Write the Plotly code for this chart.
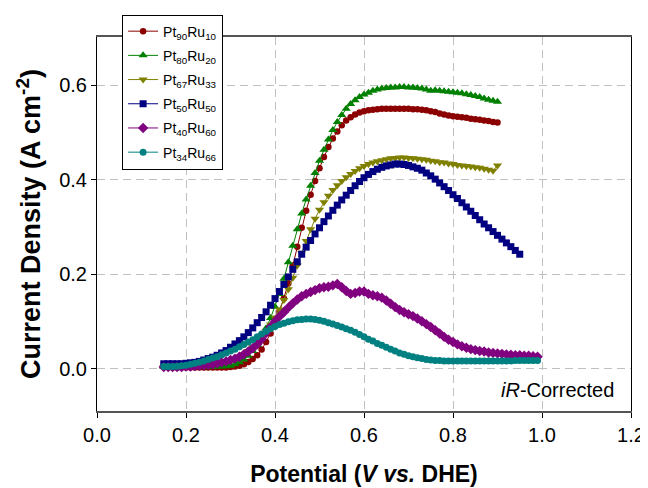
import plotly.graph_objects as go

potential = [0.15, 0.16, 0.17, 0.18, 0.19, 0.20, 0.21, 0.22, 0.23, 0.24,
             0.25, 0.26, 0.27, 0.28, 0.29, 0.30, 0.31, 0.32, 0.33, 0.34,
             0.35, 0.36, 0.37, 0.38, 0.39, 0.40, 0.41, 0.42, 0.43, 0.44,
             0.45, 0.46, 0.47, 0.48, 0.49, 0.50, 0.51, 0.52, 0.53, 0.54,
             0.55, 0.56, 0.57, 0.58, 0.59, 0.60, 0.61, 0.62, 0.63, 0.64,
             0.65, 0.66, 0.67, 0.68, 0.69, 0.70, 0.71, 0.72, 0.73, 0.74,
             0.75, 0.76, 0.77, 0.78, 0.79, 0.80, 0.81, 0.82, 0.83, 0.84,
             0.85, 0.86, 0.87, 0.88, 0.89, 0.90, 0.91, 0.92, 0.93, 0.94,
             0.95, 0.96, 0.97, 0.98, 0.99]

pt90ru10 = [0.003, 0.003, 0.002, 0.002, 0.002, 0.002, 0.002, 0.002, 0.002, 0.002,
            0.002, 0.002, 0.002, 0.002, 0.002, 0.003, 0.004, 0.006, 0.009, 0.014,
            0.020, 0.028, 0.040, 0.056, 0.074, 0.095, 0.120, 0.148, 0.180, 0.218,
            0.258, 0.298, 0.334, 0.368, 0.397, 0.424, 0.448, 0.469, 0.487, 0.502,
            0.515, 0.525, 0.532, 0.538, 0.542, 0.545, 0.547, 0.548, 0.549, 0.550,
            0.550, 0.550, 0.550, 0.550, 0.550, 0.550, 0.549, 0.549, 0.548, 0.547,
            0.545, 0.543, 0.540, 0.538, 0.536, 0.534, 0.533, 0.532, 0.531, 0.529,
            0.528, 0.527, 0.525, 0.524, 0.522, 0.521]

pt80ru20 = [0.003, 0.003, 0.003, 0.003, 0.003, 0.003, 0.003, 0.003, 0.003, 0.003,
            0.003, 0.003, 0.004, 0.004, 0.005, 0.006, 0.009, 0.013, 0.019, 0.027,
            0.037, 0.050, 0.066, 0.085, 0.107, 0.131, 0.158, 0.190, 0.225, 0.260,
            0.295, 0.328, 0.358, 0.387, 0.414, 0.440, 0.463, 0.485, 0.505, 0.522,
            0.537, 0.550, 0.560, 0.568, 0.575, 0.580, 0.584, 0.588, 0.591, 0.593,
            0.594, 0.595, 0.595, 0.596, 0.596, 0.595, 0.595, 0.594, 0.593, 0.591,
            0.588, 0.589, 0.588, 0.587, 0.586, 0.585, 0.584, 0.583, 0.581, 0.579,
            0.577, 0.575, 0.572, 0.569, 0.567, 0.565]

pt67ru33 = [0.003, 0.003, 0.003, 0.003, 0.004, 0.004, 0.005, 0.005, 0.006, 0.007,
            0.008, 0.009, 0.010, 0.012, 0.014, 0.017, 0.020, 0.025, 0.030, 0.037,
            0.045, 0.055, 0.066, 0.079, 0.093, 0.108, 0.125, 0.145, 0.168, 0.192,
            0.218, 0.245, 0.270, 0.295, 0.317, 0.336, 0.352, 0.366, 0.378, 0.388,
            0.397, 0.405, 0.412, 0.418, 0.424, 0.429, 0.433, 0.436, 0.439, 0.441,
            0.443, 0.445, 0.446, 0.447, 0.447, 0.446, 0.445, 0.444, 0.443, 0.442,
            0.440, 0.439, 0.437, 0.436, 0.434, 0.433, 0.431, 0.430, 0.429, 0.428,
            0.426, 0.425, 0.423, 0.421, 0.419, 0.430]

pt50ru50 = [0.010, 0.010, 0.010, 0.010, 0.010, 0.011, 0.012, 0.013, 0.015, 0.018,
            0.021, 0.024, 0.028, 0.033, 0.038, 0.045, 0.052, 0.059, 0.067, 0.076,
            0.086, 0.097, 0.108, 0.120, 0.134, 0.148, 0.163, 0.178, 0.194, 0.210,
            0.226, 0.242, 0.257, 0.271, 0.285, 0.298, 0.311, 0.323, 0.335, 0.346,
            0.357, 0.367, 0.377, 0.387, 0.396, 0.404, 0.411, 0.417, 0.422, 0.426,
            0.429, 0.431, 0.433, 0.433, 0.432, 0.430, 0.427, 0.424, 0.420, 0.414,
            0.408, 0.401, 0.393, 0.385, 0.377, 0.368, 0.360, 0.351, 0.342, 0.333,
            0.324, 0.315, 0.306, 0.298, 0.290, 0.282, 0.274, 0.266, 0.258, 0.250,
            0.242]

pt40ru60 = [0.003, 0.003, 0.003, 0.003, 0.003, 0.004, 0.004, 0.005, 0.006, 0.007,
            0.008, 0.009, 0.011, 0.013, 0.015, 0.018, 0.021, 0.025, 0.030, 0.036,
            0.043, 0.051, 0.062, 0.075, 0.088, 0.100, 0.110, 0.119, 0.129, 0.138,
            0.146, 0.153, 0.158, 0.162, 0.166, 0.170, 0.172, 0.173, 0.176, 0.179,
            0.172, 0.164, 0.158, 0.160, 0.163, 0.163, 0.158, 0.155, 0.153, 0.150,
            0.144, 0.137, 0.130, 0.124, 0.119, 0.115, 0.111, 0.106, 0.100, 0.094,
            0.088, 0.081, 0.074, 0.067, 0.061, 0.056, 0.051, 0.047, 0.044, 0.041,
            0.039, 0.037, 0.036, 0.034, 0.033, 0.032, 0.031, 0.030, 0.029, 0.028,
            0.028, 0.027, 0.027, 0.026, 0.025]

pt34ru66 = [0.004, 0.004, 0.004, 0.005, 0.006, 0.007, 0.009, 0.011, 0.013, 0.016,
            0.019, 0.022, 0.025, 0.029, 0.033, 0.037, 0.041, 0.046, 0.051, 0.056,
            0.061, 0.067, 0.073, 0.079, 0.084, 0.089, 0.093, 0.096, 0.099, 0.101,
            0.103, 0.104, 0.105, 0.105, 0.104, 0.102, 0.100, 0.097, 0.094, 0.091,
            0.088, 0.084, 0.081, 0.077, 0.072, 0.067, 0.062, 0.058, 0.053, 0.049,
            0.045, 0.041, 0.037, 0.033, 0.030, 0.027, 0.025, 0.023, 0.021, 0.019,
            0.018, 0.017, 0.017, 0.016, 0.016, 0.016, 0.016, 0.016, 0.016, 0.016,
            0.016, 0.016, 0.016, 0.016, 0.016, 0.016, 0.016, 0.016, 0.016, 0.017,
            0.017, 0.017, 0.017, 0.017, 0.017]

series_names = ["Pt<sub>90</sub>Ru<sub>10</sub>", "Pt<sub>80</sub>Ru<sub>20</sub>",
                "Pt<sub>67</sub>Ru<sub>33</sub>", "Pt<sub>50</sub>Ru<sub>50</sub>",
                "Pt<sub>40</sub>Ru<sub>60</sub>", "Pt<sub>34</sub>Ru<sub>66</sub>"]
series_values = [pt90ru10, pt80ru20, pt67ru33, pt50ru50, pt40ru60, pt34ru66]
colors = ["#8b0000", "#008000", "#808000", "#000080", "#800080", "#008080"]
symbols = ["circle", "triangle-up", "triangle-down", "square", "diamond", "circle"]
sizes = [6.5, 8, 8, 7, 8, 7]

x_ticks = [0.0, 0.2, 0.4, 0.6, 0.8, 1.0, 1.2]
y_ticks = [0.0, 0.2, 0.4, 0.6]

fig = go.Figure()
for name, vals, c, s, sz in zip(series_names, series_values, colors, symbols, sizes):
    fig.add_trace(go.Scatter(
        x=potential[:len(vals)], y=vals, name=name, legendgroup=name,
        mode="lines+markers",
        line=dict(color=c, width=1),
        marker=dict(color=c, symbol=s, size=sz, line=dict(width=0)),
    ))

font_family = "Liberation Sans, Arial, sans-serif"
fig.update_layout(
    width=640, height=480,
    margin=dict(l=89, r=17, t=29, b=77, autoexpand=False),
    paper_bgcolor="white", plot_bgcolor="white",
    font=dict(family=font_family, color="black", size=20),
    showlegend=True,
    legend=dict(
        x=0.047, y=1.060, xanchor="left", yanchor="top",
        bgcolor="white", bordercolor="black", borderwidth=1,
        font=dict(size=14, family=font_family),
        tracegroupgap=3, itemwidth=30,
    ),
    xaxis=dict(
        range=[0, 1.2], tickvals=x_ticks, ticktext=[f"{v:.1f}" for v in x_ticks],
        showgrid=True, gridcolor="#c0c0c0", griddash="8px,5px", gridwidth=1,
        showline=True, linecolor="#555555", linewidth=2, mirror=True,
        ticks="outside", ticklen=5, tickcolor="black",
        tickfont=dict(size=20), zeroline=False, automargin=False,
        title=dict(text="<b>Potential (<i>V vs.</i> DHE)</b>", font=dict(size=23), standoff=21),
    ),
    yaxis=dict(
        range=[-0.09, 0.702], tickvals=y_ticks, ticktext=[f"{v:.1f}" for v in y_ticks],
        showgrid=True, gridcolor="#c0c0c0", griddash="8px,5px", gridwidth=1,
        showline=True, linecolor="black", linewidth=1, mirror=True,
        ticks="outside", ticklen=5, tickcolor="black",
        tickfont=dict(size=20), zeroline=False, automargin=False,
        title=dict(text="<b>Current Density (A cm<sup>-2</sup>)</b>", font=dict(size=27), standoff=10),
    ),
    annotations=[dict(
        text="<i>iR</i>-Corrected", xref="paper", yref="paper",
        x=0.972, y=0.057, xanchor="right", yanchor="middle", showarrow=False,
        font=dict(size=20, family=font_family),
    )],
)

fig.write_html("out.html")
